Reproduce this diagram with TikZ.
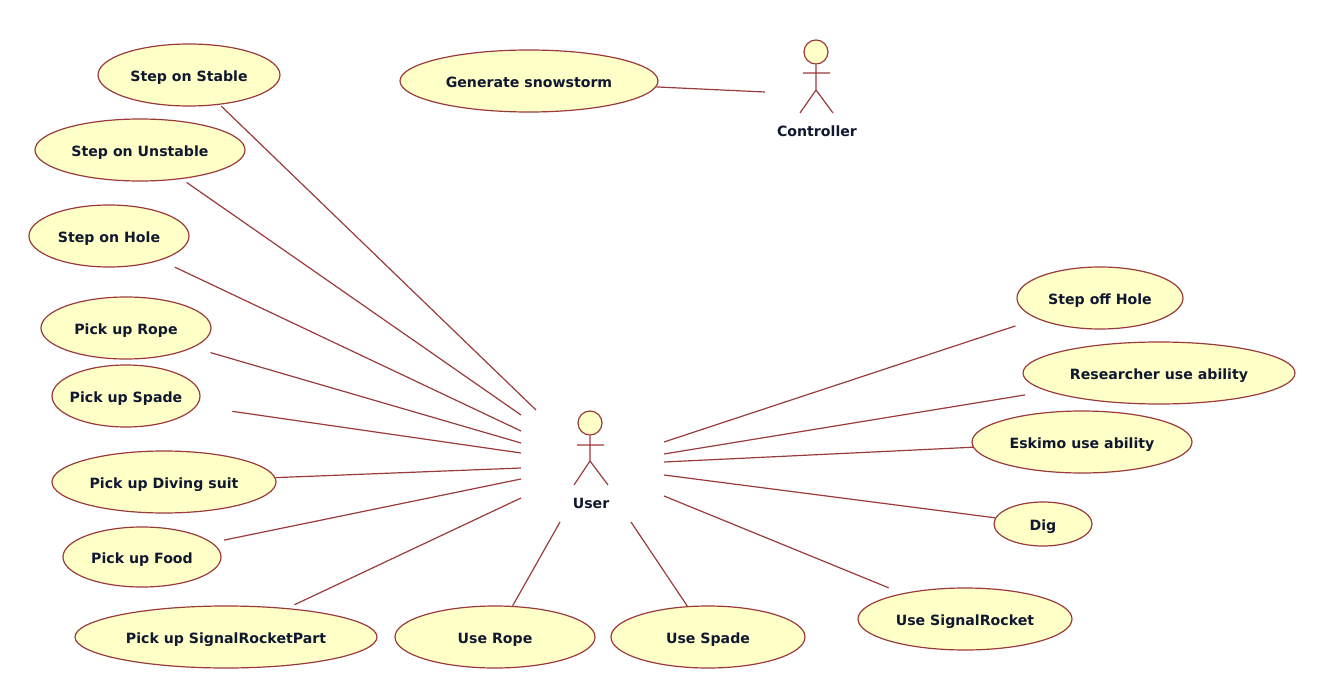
\documentclass[tikz,border=0pt]{standalone}
\usepackage{fontspec}
\setmainfont{DejaVu Sans}
\usetikzlibrary{shapes.geometric}
\definecolor{umlline}{HTML}{9A3A3C}
\definecolor{umlfill}{HTML}{FFFFC8}
\definecolor{umltext}{HTML}{101830}
\tikzset{
  case/.style n args={2}{draw=umlline,fill=umlfill,line width=0.9pt,ellipse,inner ysep=0pt,inner xsep=-8pt,
    minimum width=#1*0.75pt,minimum height=#2*0.75pt,text=umltext,text height=11pt,text depth=1.2pt,
    font=\fontsize{10.6}{12}\selectfont\bfseries},
  link/.style={draw=umlline,line width=0.9pt},
  actorlabel/.style={text=umltext,font=\fontsize{10.6}{12}\selectfont\bfseries,inner sep=0pt},
  actorhead/.style={circle,draw=umlline,fill=umlfill,line width=0.9pt,minimum size=18pt,inner sep=0pt}
}
\begin{document}
\begin{tikzpicture}[x=0.75pt,y=-0.75pt]
\useasboundingbox (0,0) rectangle (1340,692);
% use cases
\node[case={182}{62}] (stable) at (189,75) {Step on Stable};
\node[case={210}{62}] (unstable) at (140,150) {Step on Unstable};
\node[case={160}{62}] (hole) at (109,236) {Step on Hole};
\node[case={170}{62}] (rope) at (126,328) {Pick up Rope};
\node[case={148}{62}] (spade) at (126,396) {Pick up Spade};
\node[case={224}{62}] (suit) at (164,482) {Pick up Diving suit};
\node[case={158}{60}] (food) at (142,557) {Pick up Food};
\node[case={302}{62}] (part) at (226,637) {Pick up SignalRocketPart};
\node[case={200}{62}] (userope) at (495,637) {Use Rope};
\node[case={194}{62}] (usespade) at (708,637) {Use Spade};
\node[case={214}{62}] (userocket) at (965,619) {Use SignalRocket};
\node[case={98}{44}] (dig) at (1043,524) {Dig};
\node[case={220}{62}] (eskimo) at (1082,442) {Eskimo use ability};
\node[case={272}{62}] (researcher) at (1159,373) {Researcher use ability};
\node[case={166}{62}] (stepoff) at (1100,298) {Step off Hole};
\node[case={258}{62}] (storm) at (529,81) {Generate snowstorm};
% actors
\node[actorhead] (chead) at (816,52) {};
\coordinate (cneck) at (816,90);
\coordinate (carmL) at (803,73);
\coordinate (carmR) at (830,73);
\coordinate (clegL) at (800,113);
\coordinate (clegR) at (833,113);
\draw[link] (chead) -- (cneck) (carmL) -- (carmR) (clegL) -- (cneck) -- (clegR);
\node[actorlabel] (controller) at (817,131) {Controller};
\node[actorhead] (uhead) at (590,423) {};
\coordinate (uneck) at (590,461);
\coordinate (uarmL) at (577,445);
\coordinate (uarmR) at (604,445);
\coordinate (ulegL) at (574,485);
\coordinate (ulegR) at (608,485);
\draw[link] (uhead) -- (uneck) (uarmL) -- (uarmR) (ulegL) -- (uneck) -- (ulegR);
\node[actorlabel] (user) at (591,503) {User};
% connector ends next to the actors
\coordinate (e1) at (536,410);
\coordinate (e2) at (521,415);
\coordinate (e3) at (521,431);
\coordinate (e4) at (521,443);
\coordinate (e5) at (521,453);
\coordinate (e6) at (521,468);
\coordinate (e7) at (521,479);
\coordinate (e8) at (521,498);
\coordinate (e9) at (560,522);
\coordinate (e10) at (631,522);
\coordinate (e11) at (664,496);
\coordinate (e12) at (664,475);
\coordinate (e13) at (664,462);
\coordinate (e14) at (664,454);
\coordinate (e15) at (664,442);
\coordinate (e16) at (765,92);
\draw[link,shorten <=1.5pt] (stable) -- (e1);
\draw[link,shorten <=4.5pt] (unstable) -- (e2);
\draw[link,shorten <=12pt] (hole) -- (e3);
\draw[link,shorten <=13.5pt] (rope) -- (e4);
\draw[link,shorten <=27pt] (spade) -- (e5);
\draw[link] (suit) -- (e6);
\draw[link,shorten <=9pt] (food) -- (e7);
\draw[link,shorten <=6pt] (part) -- (e8);
\draw[link] (userope) -- (e9);
\draw[link] (usespade) -- (e10);
\draw[link,shorten <=11pt] (userocket) -- (e11);
\draw[link] (dig) -- (e12);
\draw[link] (eskimo) -- (e13);
\draw[link,shorten <=17pt] (researcher) -- (e14);
\draw[link,shorten <=17pt] (stepoff) -- (e15);
\draw[link] (storm) -- (e16);
\end{tikzpicture}
\end{document}
